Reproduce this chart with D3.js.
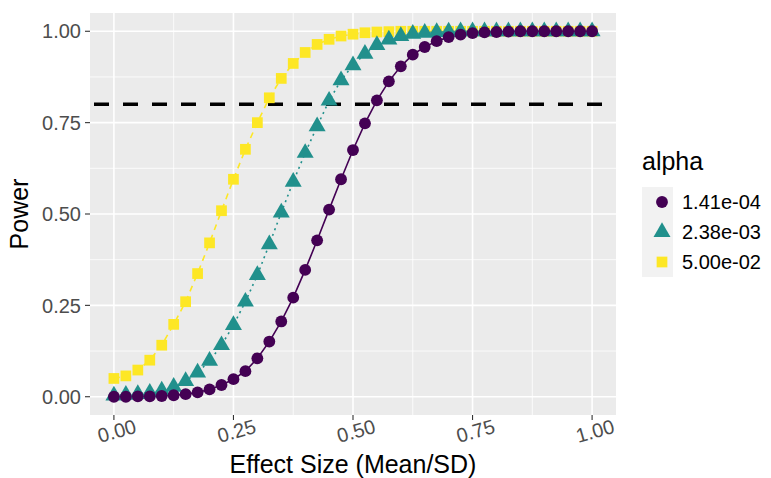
<!DOCTYPE html>
<html>
<head>
<meta charset="utf-8">
<script src="https://cdn.jsdelivr.net/npm/d3@7"></script>
<style>
  body { margin: 0; background: #fff; }
  text { font-family: "Liberation Sans", Arial, sans-serif; }
</style>
</head>
<body>
<div id="chart"></div>
<script>
const width = 771;
const height = 478;

// effect sizes (Mean/SD)
const effectSizes = [0.000, 0.025, 0.050, 0.075, 0.100, 0.125, 0.150, 0.175, 0.200, 0.225,
    0.250, 0.275, 0.300, 0.325, 0.350, 0.375, 0.400, 0.425, 0.450, 0.475,
    0.500, 0.525, 0.550, 0.575, 0.600, 0.625, 0.650, 0.675, 0.700, 0.725,
    0.750, 0.775, 0.800, 0.825, 0.850, 0.875, 0.900, 0.925, 0.950, 0.975, 1.000];

const alphaLabels = ["1.41e-04", "2.38e-03", "5.00e-02"];

const powerA = [0.000, 0.000, 0.001, 0.001, 0.002, 0.004, 0.007, 0.012, 0.020, 0.032,
    0.048, 0.070, 0.105, 0.151, 0.206, 0.271, 0.347, 0.428, 0.512, 0.595,
    0.675, 0.748, 0.811, 0.863, 0.904, 0.936, 0.957, 0.973, 0.984, 0.991,
    0.995, 0.997, 0.998, 0.999, 1.000, 1.000, 1.000, 1.000, 1.000, 1.000, 1.000];

const powerB = [0.003, 0.005, 0.007, 0.011, 0.017, 0.027, 0.043, 0.066, 0.098, 0.141,
    0.196, 0.260, 0.333, 0.417, 0.504, 0.588, 0.667, 0.740, 0.810, 0.866,
    0.907, 0.938, 0.962, 0.977, 0.987, 0.993, 0.996, 0.998, 0.999, 1.000,
    1.000, 1.000, 1.000, 1.000, 1.000, 1.000, 1.000, 1.000, 1.000, 1.000, 1.000];

const powerC = [0.050, 0.057, 0.073, 0.100, 0.141, 0.198, 0.260, 0.337, 0.421, 0.509,
    0.595, 0.677, 0.750, 0.818, 0.871, 0.912, 0.942, 0.964, 0.978, 0.987,
    0.992, 0.996, 0.998, 0.999, 1.000, 1.000, 1.000, 1.000, 1.000, 1.000,
    1.000, 1.000, 1.000, 1.000, 1.000, 1.000, 1.000, 1.000, 1.000, 1.000, 1.000];

const targetPower = 0.8;
const xTicks = [0, 0.25, 0.5, 0.75, 1];
const yTicks = [0, 0.25, 0.5, 0.75, 1];

const colors = ["#440154", "#21908C", "#FDE725"];
const shapes = [d3.symbolCircle, d3.symbolTriangle, d3.symbolSquare];
const symbolSizes = [110, 125, 115];
const dashes = [null, "2,4", "6,5"];

const series = alphaLabels.map((label, i) => ({
    label: label,
    color: colors[i],
    shape: shapes[i],
    size: symbolSizes[i],
    dash: dashes[i],
    values: effectSizes.map((e, j) => ({ x: e, y: [powerA, powerB, powerC][i][j] }))
}));

const panel = { left: 90, right: 616, top: 13, bottom: 415 };

const x = d3.scaleLinear().domain([-0.05, 1.05]).range([panel.left, panel.right]);
const y = d3.scaleLinear().domain([-0.05, 1.05]).range([panel.bottom, panel.top]);

const svg = d3.select("#chart")
    .append("svg")
    .attr("width", width)
    .attr("height", height);

// panel background
svg.append("rect")
    .attr("x", panel.left)
    .attr("y", panel.top)
    .attr("width", panel.right - panel.left)
    .attr("height", panel.bottom - panel.top)
    .attr("fill", "#EBEBEB");

// minor grid
const minorX = xTicks.slice(1).map((t, i) => (t + xTicks[i]) / 2);
const minorY = yTicks.slice(1).map((t, i) => (t + yTicks[i]) / 2);

svg.append("g").selectAll("line")
    .data(minorX)
    .enter().append("line")
    .attr("x1", d => x(d)).attr("x2", d => x(d))
    .attr("y1", panel.top).attr("y2", panel.bottom)
    .attr("stroke", "#fff").attr("stroke-width", 0.8);

svg.append("g").selectAll("line")
    .data(minorY)
    .enter().append("line")
    .attr("y1", d => y(d)).attr("y2", d => y(d))
    .attr("x1", panel.left).attr("x2", panel.right)
    .attr("stroke", "#fff").attr("stroke-width", 0.8);

// major grid
svg.append("g").selectAll("line")
    .data(xTicks)
    .enter().append("line")
    .attr("x1", d => x(d)).attr("x2", d => x(d))
    .attr("y1", panel.top).attr("y2", panel.bottom)
    .attr("stroke", "#fff").attr("stroke-width", 1.6);

svg.append("g").selectAll("line")
    .data(yTicks)
    .enter().append("line")
    .attr("y1", d => y(d)).attr("y2", d => y(d))
    .attr("x1", panel.left).attr("x2", panel.right)
    .attr("stroke", "#fff").attr("stroke-width", 1.6);

// target power line
svg.append("line")
    .attr("x1", panel.left).attr("x2", panel.right)
    .attr("y1", y(targetPower)).attr("y2", y(targetPower))
    .attr("stroke", "#000")
    .attr("stroke-width", 3.5)
    .attr("stroke-dasharray", "15,14")
    .attr("stroke-dashoffset", -4);

// lines and points, last alpha drawn first so the purple sits on top
const line = d3.line().x(d => x(d.x)).y(d => y(d.y));
const ordered = series.slice().reverse();

ordered.forEach(s => {
    svg.append("path")
        .datum(s.values)
        .attr("d", line)
        .attr("fill", "none")
        .attr("stroke", s.color)
        .attr("stroke-width", 1.6)
        .attr("stroke-dasharray", s.dash);
});

ordered.forEach(s => {
    svg.append("g").selectAll("path")
        .data(s.values)
        .enter().append("path")
        .attr("transform", d => `translate(${x(d.x)},${y(d.y)})`)
        .attr("d", d3.symbol().type(s.shape).size(s.size))
        .attr("fill", s.color);
});

// y axis
const yAxis = svg.append("g");
yAxis.selectAll("line")
    .data(yTicks)
    .enter().append("line")
    .attr("x1", panel.left - 5).attr("x2", panel.left)
    .attr("y1", d => y(d)).attr("y2", d => y(d))
    .attr("stroke", "#333").attr("stroke-width", 1.1);
yAxis.selectAll("text")
    .data(yTicks)
    .enter().append("text")
    .attr("x", panel.left - 9)
    .attr("y", d => y(d))
    .attr("dy", "0.36em")
    .attr("text-anchor", "end")
    .attr("font-size", "20px")
    .attr("fill", "#4D4D4D")
    .text(d => d3.format(".2f")(d));

// x axis
const xAxis = svg.append("g");
xAxis.selectAll("line")
    .data(xTicks)
    .enter().append("line")
    .attr("x1", d => x(d)).attr("x2", d => x(d))
    .attr("y1", panel.bottom).attr("y2", panel.bottom + 5)
    .attr("stroke", "#333").attr("stroke-width", 1.1);
xAxis.selectAll("text")
    .data(xTicks)
    .enter().append("text")
    .attr("transform", d => `translate(${x(d) + 3},${panel.bottom + 16}) rotate(-16)`)
    .attr("y", 7)
    .attr("text-anchor", "middle")
    .attr("font-size", "20px")
    .attr("fill", "#4D4D4D")
    .text(d => d3.format(".2f")(d));

// axis titles
svg.append("text")
    .attr("x", (panel.left + panel.right) / 2)
    .attr("y", 473)
    .attr("text-anchor", "middle")
    .attr("font-size", "25px")
    .attr("fill", "#000")
    .text("Effect Size (Mean/SD)");

svg.append("text")
    .attr("transform", `translate(28,${(panel.top + panel.bottom) / 2}) rotate(-90)`)
    .attr("text-anchor", "middle")
    .attr("font-size", "25px")
    .attr("fill", "#000")
    .text("Power");

// legend
const legend = svg.append("g").attr("transform", "translate(642,187)");
legend.append("text")
    .attr("x", 0)
    .attr("y", -17)
    .attr("font-size", "25px")
    .attr("fill", "#000")
    .text("alpha");

const keys = legend.selectAll("g")
    .data(series)
    .enter().append("g")
    .attr("transform", (d, i) => `translate(0,${i * 30})`);

keys.append("rect")
    .attr("width", 31)
    .attr("height", 30)
    .attr("fill", "#F2F2F2");

keys.append("path")
    .attr("transform", "translate(20,15)")
    .attr("d", d => d3.symbol().type(d.shape).size(d.size)())
    .attr("fill", d => d.color);

keys.append("text")
    .attr("x", 40)
    .attr("y", 15)
    .attr("dy", "0.36em")
    .attr("font-size", "20px")
    .attr("fill", "#000")
    .text(d => d.label);
</script>
</body>
</html>
